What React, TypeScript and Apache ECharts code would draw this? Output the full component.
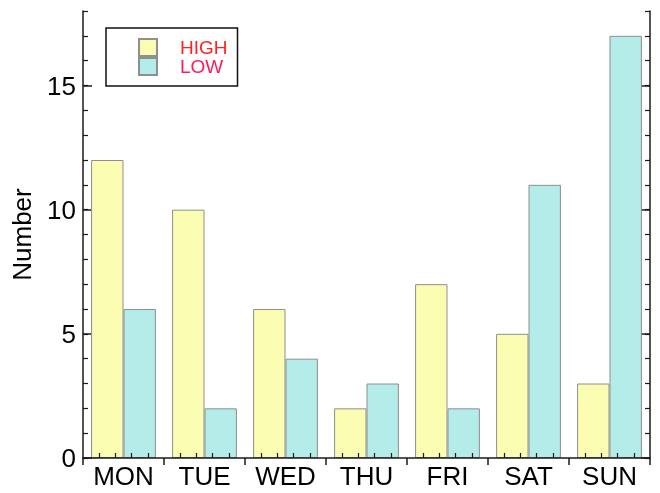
import React, { useEffect, useRef } from "react";
import * as echarts from "echarts";

// Weekly counts, split into HIGH and LOW
const days = ["MON", "TUE", "WED", "THU", "FRI", "SAT", "SUN"];
const highValues = [12, 10, 6, 2, 7, 5, 3];
const lowValues = [6, 2, 4, 3, 2, 11, 17];
const majorTicks = [0, 5, 10, 15];

const FONT = "'Liberation Sans', Arial, Helvetica, sans-serif";
const AXIS_COLOR = "#1a1a1a";

export default function App() {
  const ref = useRef<HTMLDivElement>(null);

  useEffect(() => {
    if (!ref.current) return;
    const chart = echarts.init(ref.current, undefined, { renderer: "svg" });

    const lineStyle = { color: AXIS_COLOR, width: 1.5 };

    // value axis helper sharing the same 0..18 extent
    const yBase = (position: "left" | "right") => ({
      type: "value" as const,
      position,
      min: 0,
      max: 18,
      interval: 1,
      splitLine: { show: false },
    });

    chart.setOption({
      animation: false,
      textStyle: { fontFamily: FONT },
      grid: { left: 83, right: 10, top: 11, bottom: 35, containLabel: false },
      legend: {
        left: 106,
        top: 28,
        orient: "vertical",
        itemWidth: 18,
        itemHeight: 17,
        itemGap: 0,
        icon: "rect",
        borderColor: "#111",
        borderWidth: 1.5,
        borderRadius: 0,
        padding: [10, 10, 10, 32],
        textStyle: {
          fontSize: 19,
          fontFamily: FONT,
          lineHeight: 18,
          padding: [0, 0, 0, 18],
        },
        data: [
          { name: "HIGH", textStyle: { color: "#ff2222" } },
          { name: "LOW", textStyle: { color: "#ff1a5c" } },
        ],
      },
      xAxis: [
        {
          type: "category",
          data: days,
          position: "bottom",
          z: 3,
          axisLine: { show: true, lineStyle },
          axisTick: { show: true, inside: false, length: 7, lineStyle },
          axisLabel: { color: "#000", fontSize: 26, fontFamily: FONT, margin: 5 },
          splitLine: { show: false },
        },
        {
          // minor ticks inside each category
          type: "value",
          position: "bottom",
          min: 0,
          max: 7,
          interval: 1,
          z: 3,
          axisLine: { show: false },
          axisTick: { show: false, inside: true },
          axisLabel: { show: false },
          splitLine: { show: false },
          minorTick: {
            show: true,
            splitNumber: 5,
            length: 5,
            lineStyle: { color: AXIS_COLOR, width: 1.2 },
          },
          minorSplitLine: { show: false },
        },
      ],
      yAxis: [
        {
          ...yBase("left"),
          name: "Number",
          nameLocation: "middle",
          nameRotate: 90,
          nameGap: 48,
          nameTextStyle: { color: "#000", fontSize: 26, fontFamily: FONT },
          axisLine: { show: true, lineStyle },
          axisTick: { show: true, inside: true, length: 5, lineStyle: { color: AXIS_COLOR, width: 1.2 } },
          axisLabel: {
            color: "#000",
            fontSize: 26,
            fontFamily: FONT,
            margin: 7,
            customValues: majorTicks,
          },
        },
        {
          ...yBase("left"),
          axisLine: { show: false },
          axisTick: { show: true, inside: true, length: 9, customValues: majorTicks, lineStyle },
          axisLabel: { show: false },
        },
        {
          ...yBase("right"),
          axisLine: { show: true, lineStyle },
          axisTick: { show: true, inside: true, length: 5, lineStyle: { color: AXIS_COLOR, width: 1.2 } },
          axisLabel: { show: false },
        },
        {
          ...yBase("right"),
          axisLine: { show: false },
          axisTick: { show: true, inside: true, length: 9, customValues: majorTicks, lineStyle },
          axisLabel: { show: false },
        },
      ],
      series: [
        {
          name: "HIGH",
          type: "bar",
          xAxisIndex: 0,
          yAxisIndex: 0,
          data: highValues,
          barGap: "0%",
          barCategoryGap: "20%",
          itemStyle: { color: "#fbfdb2", borderColor: "#8f8f8f", borderWidth: 1 },
        },
        {
          name: "LOW",
          type: "bar",
          xAxisIndex: 0,
          yAxisIndex: 0,
          data: lowValues,
          barGap: "0%",
          barCategoryGap: "20%",
          itemStyle: { color: "#b3ece8", borderColor: "#8f8f8f", borderWidth: 1 },
        },
      ],
    });

    return () => chart.dispose();
  }, []);

  return (
    <div
      ref={ref}
      style={{ position: "fixed", left: 0, top: 0, width: 660, height: 493 }}
    />
  );
}
